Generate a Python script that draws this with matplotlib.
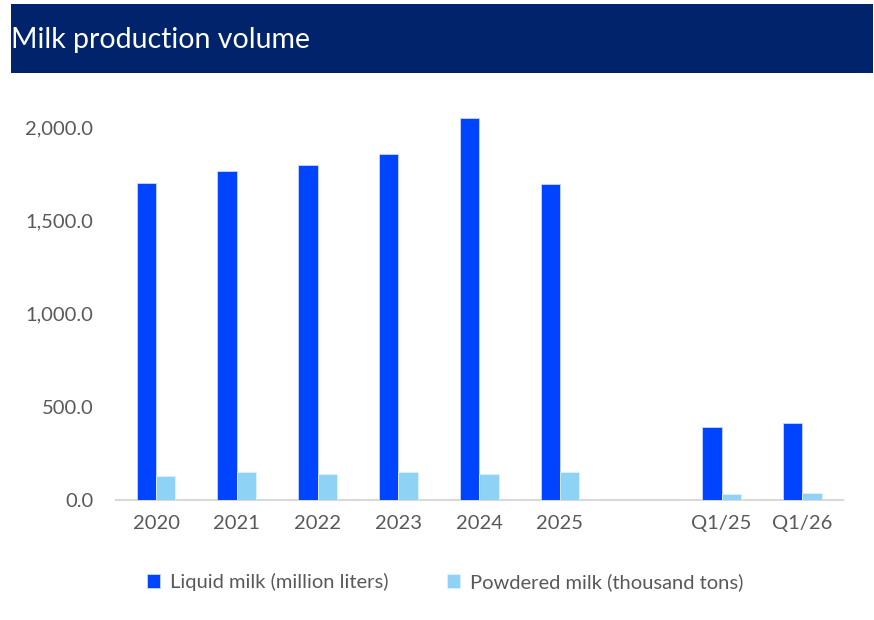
import matplotlib
matplotlib.use("Agg")
import matplotlib.pyplot as plt
from matplotlib.patches import Rectangle
from matplotlib.ticker import FuncFormatter

plt.rcParams['font.family'] = ['Lato', 'DejaVu Sans']

categories = ["2020", "2021", "2022", "2023", "2024", "2025", "", "Q1/25", "Q1/26"]
liquid_milk = [1698, 1764, 1796, 1855, 2050, 1696, None, 391, 413]
powdered_milk = [129, 150, 140, 152, 141, 152, None, 30, 36]
y_ticks = [0, 500, 1000, 1500, 2000]

series_names = ["Liquid milk (million liters)", "Powdered milk (thousand tons)"]
liquid_color = "#0044FF"
powder_color = "#8ED3F5"
banner_color = "#00236B"
text_color = "#595959"

fig = plt.figure(figsize=(8.74, 6.2), dpi=100)

# Title banner
fig.patches.append(Rectangle((11 / 874, 1 - 73 / 620), 862 / 874, 69 / 620,
                             transform=fig.transFigure, facecolor=banner_color,
                             edgecolor="none", zorder=0))
fig.text(11 / 874, 1 - 40 / 620, "Milk production volume", color="white",
         fontsize=20.5, va="center", ha="left")

ymax = 2200
ax_left, ax_right = 115.6 / 874, 842.8 / 874
ax_bottom = (620 - 500) / 620
ax_top_px = 500 - ymax * (373 / 2000)
ax = fig.add_axes([ax_left, ax_bottom, ax_right - ax_left, (500 - ax_top_px) / 620])

x = list(range(len(categories)))
w = 0.24
xs = [i for i, v in zip(x, liquid_milk) if v is not None]
lv = [v for v in liquid_milk if v is not None]
pv = [v for v in powdered_milk if v is not None]

ax.bar([i - w / 2 for i in xs], lv, width=w, color=liquid_color,
       edgecolor="#C9D6FF", linewidth=0.6, label=series_names[0], zorder=3)
ax.bar([i + w / 2 for i in xs], pv, width=w, color=powder_color,
       edgecolor="#DDF1FC", linewidth=0.6, label=series_names[1], zorder=3)

ax.set_xlim(-0.5, len(categories) - 0.5)
ax.set_ylim(0, ymax)
ax.set_yticks(y_ticks)
ax.yaxis.set_major_formatter(FuncFormatter(lambda v, p: f"{v:,.1f}"))
ax.set_xticks(x)
ax.set_xticklabels(categories)

for s in ["top", "right", "left"]:
    ax.spines[s].set_visible(False)
ax.spines["bottom"].set_color("#D9D9D9")
ax.spines["bottom"].set_linewidth(1.5)
ax.tick_params(axis="both", length=0, colors=text_color, labelsize=14.5)
ax.tick_params(axis="y", pad=16)
ax.tick_params(axis="x", pad=11)

leg = fig.legend(loc="center", bbox_to_anchor=(445 / 874, 1 - 582 / 620),
                 ncol=2, frameon=False, fontsize=14.5, handlelength=0.65,
                 handleheight=0.75, handletextpad=0.5, columnspacing=2.9)
for t in leg.get_texts():
    t.set_color(text_color)

fig.savefig("out.png", dpi=100)
